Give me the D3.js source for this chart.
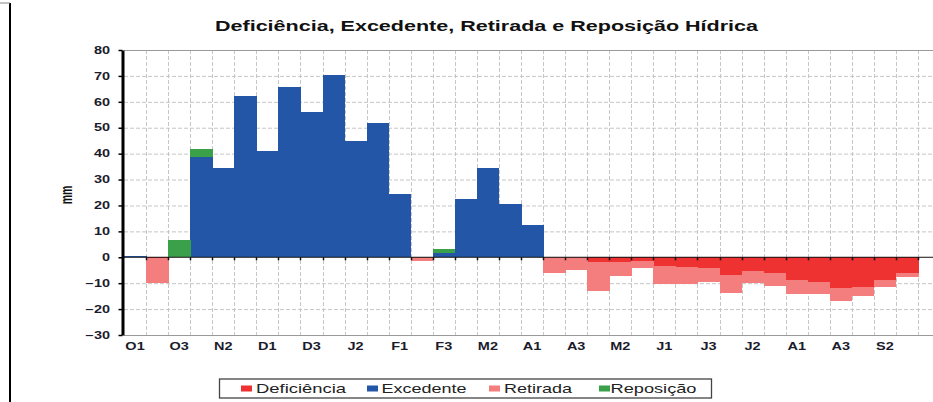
<!DOCTYPE html>
<html>
<head>
<meta charset="utf-8">
<script src="https://cdn.jsdelivr.net/npm/d3@7"></script>
<style>
body { margin: 0; background: #fff; }
svg { display: block; font-family: "Liberation Sans", Arial, sans-serif; }
</style>
</head>
<body>
<svg id="chart" width="933" height="402"></svg>
<script>
// decendios (out -> set)
var decendios = ["O1","O2","O3","N1","N2","N3","D1","D2","D3","J1","J2","J3",
                 "F1","F2","F3","M1","M2","M3","A1","A2","A3","M1","M2","M3",
                 "J1","J2","J3","J1","J2","J3","A1","A2","A3","S1","S2","S3"];

// mm
var deficiencia = [0, 0.4, 0, 0, 0, 0, 0, 0, 0, 0, 0, 0,
                   0, 0, 0, 0, 0, 0, 0, 0, 0, 1.8, 1.7, 1.4,
                   3.2, 3.9, 4.3, 6.8, 5.3, 6.1, 8.9, 9.7, 12.0, 11.3, 8.9, 5.9];
var excedente = [0.6, 0, 0, 38.7, 34.6, 62.2, 41.2, 65.8, 56.1, 70.5, 44.7, 51.7,
                 24.3, 0, 1.8, 22.4, 34.5, 20.7, 12.4, 0, 0, 0, 0, 0,
                 0, 0, 0, 0, 0, 0, 0, 0, 0, 0, 0, 0];
var retirada = [0, 9.6, 0, 0, 0, 0, 0, 0, 0, 0, 0, 0,
                0, 1.3, 0, 0, 0, 0, 0, 5.9, 4.9, 11.1, 5.4, 2.9,
                7.2, 6.6, 5.4, 6.9, 4.8, 4.8, 5.1, 4.3, 4.7, 3.5, 2.4, 1.7];
var reposicao = [0, 0, 6.7, 3.1, 0, 0, 0, 0, 0, 0, 0, 0,
                 0, 0, 1.3, 0, 0, 0, 0, 0, 0, 0, 0, 0,
                 0, 0, 0, 0, 0, 0, 0, 0, 0, 0, 0, 0];

var series = ["Deficiência", "Excedente", "Retirada", "Reposição"];
var colors = ["#ee3131", "#2356a6", "#f47e7e", "#3aa04a"];
var yTicks = d3.range(-30, 90, 10);

var table = decendios.map(function (d, i) {
    return {
        i: i,
        "Deficiência": -deficiencia[i],
        "Excedente": excedente[i],
        "Retirada": -retirada[i],
        "Reposição": reposicao[i]
    };
});

var svg = d3.select("#chart");
var plotL = 124, plotR = 918, plotT = 50, plotB = 335, edge = 933;
var sx = 1.45; // the picture is stretched sideways

var x = d3.scaleBand().domain(d3.range(decendios.length)).range([plotL, plotR]).padding(0);
var y = d3.scaleLinear().domain([-30, 80]).range([plotB, plotT]);
var bw = x.bandwidth();

// frame bits on the far left
svg.append("line").attr("x1", 10).attr("x2", 10).attr("y1", 3).attr("y2", 402)
    .attr("stroke", "#000").attr("stroke-width", 2);
svg.append("line").attr("x1", 0).attr("x2", 10).attr("y1", 3).attr("y2", 3)
    .attr("stroke", "#888").attr("stroke-width", 1);

// title
svg.append("text").attr("x", 215).attr("y", 31)
    .attr("font-size", 14).attr("font-weight", "bold").attr("fill", "#111")
    .attr("textLength", 543).attr("lengthAdjust", "spacingAndGlyphs")
    .text("Deficiência, Excedente, Retirada e Reposição Hídrica");

// grid
var grid = svg.append("g");
grid.selectAll("line.h").data(yTicks.filter(function (v) { return v > -30 && v < 80 && v !== 0; }))
    .enter().append("line").attr("class", "h")
    .attr("x1", plotL).attr("x2", edge)
    .attr("y1", function (d) { return y(d) + 0.5; }).attr("y2", function (d) { return y(d) + 0.5; })
    .attr("stroke", "#c6c6c6").attr("stroke-dasharray", "4,2");
grid.selectAll("line.v").data(d3.range(1, decendios.length + 1))
    .enter().append("line").attr("class", "v")
    .attr("x1", function (d) { return Math.round(plotL + d * bw) + 0.5; })
    .attr("x2", function (d) { return Math.round(plotL + d * bw) + 0.5; })
    .attr("y1", plotT).attr("y2", plotB)
    .attr("stroke", "#c6c6c6").attr("stroke-dasharray", "4,2");
[80, -30].forEach(function (v) {
    grid.append("line").attr("x1", plotL).attr("x2", edge)
        .attr("y1", y(v) + 0.5).attr("y2", y(v) + 0.5)
        .attr("stroke", "#9a9a9a");
});

// stacked bars
var stack = d3.stack().keys(series).offset(d3.stackOffsetDiverging);
var layers = stack(table);
svg.append("g").attr("shape-rendering", "crispEdges")
    .selectAll("g").data(layers).enter().append("g")
    .attr("fill", function (d, k) { return colors[k]; })
    .selectAll("rect").data(function (d) { return d; }).enter().append("rect")
    .attr("x", function (d) { return x(d.data.i); })
    .attr("width", bw + 0.5)
    .attr("y", function (d) { return y(Math.max(d[0], d[1])); })
    .attr("height", function (d) { return Math.abs(y(d[0]) - y(d[1])); });

// zero line with little ticks
svg.append("line").attr("x1", plotL).attr("x2", edge)
    .attr("y1", y(0)).attr("y2", y(0)).attr("stroke", "#111").attr("stroke-width", 1);
svg.append("g").selectAll("line").data(d3.range(1, decendios.length + 1)).enter().append("line")
    .attr("x1", function (d) { return Math.round(plotL + d * bw) + 0.5; })
    .attr("x2", function (d) { return Math.round(plotL + d * bw) + 0.5; })
    .attr("y1", y(0)).attr("y2", y(0) + 3)
    .attr("stroke", "#111").attr("stroke-width", 1.5);

// y axis
var yAxis = svg.append("g").attr("transform", "translate(122.5,0)")
    .call(d3.axisLeft(y).tickValues(yTicks).tickSize(4).tickSizeOuter(0).tickPadding(4.6));
yAxis.select(".domain").attr("stroke", "#000").attr("stroke-width", 3);
yAxis.selectAll(".tick line").attr("stroke", "#000").attr("stroke-width", 1.5);
yAxis.selectAll("text").attr("font-size", 10).attr("font-weight", "bold")
    .attr("fill", "#1b1b2b").attr("font-family", "Liberation Sans, Arial, sans-serif")
    .attr("transform", "scale(" + sx + ",1)");

// x axis labels
var xAxis = svg.append("g").attr("transform", "translate(0," + plotB + ")")
    .call(d3.axisBottom(x).tickValues(d3.range(0, decendios.length, 2))
        .tickSize(0).tickPadding(7.5)
        .tickFormat(function (i) { return decendios[i]; }));
xAxis.select(".domain").remove();
xAxis.selectAll("text").attr("font-size", 10).attr("font-weight", "bold")
    .attr("fill", "#1b1b2b").attr("font-family", "Liberation Sans, Arial, sans-serif")
    .attr("transform", "scale(" + sx + ",1)");

// y label
svg.append("text").attr("transform", "translate(72,195) scale(1.6,1) rotate(-90)")
    .attr("text-anchor", "middle").attr("font-size", 10.5).attr("font-weight", "bold")
    .attr("fill", "#111").text("mm");

// legend
var legendX = [241, 367, 489, 599];
var legendTextX = [256, 381.5, 504, 610.5];
var legendW = [90, 85, 68, 86];
var legend = svg.append("g");
legend.append("rect").attr("x", 219.5).attr("y", 379).attr("width", 492).attr("height", 19)
    .attr("fill", "none").attr("stroke", "#444").attr("stroke-width", 1.3);
series.forEach(function (s, k) {
    legend.append("rect").attr("x", legendX[k]).attr("y", 385.5)
        .attr("width", 11).attr("height", 6).attr("fill", colors[k]);
    legend.append("text").attr("x", legendTextX[k]).attr("y", 392.5)
        .attr("font-size", 13.5).attr("fill", "#222")
        .attr("textLength", legendW[k]).attr("lengthAdjust", "spacingAndGlyphs")
        .text(s);
});
</script>
</body>
</html>
